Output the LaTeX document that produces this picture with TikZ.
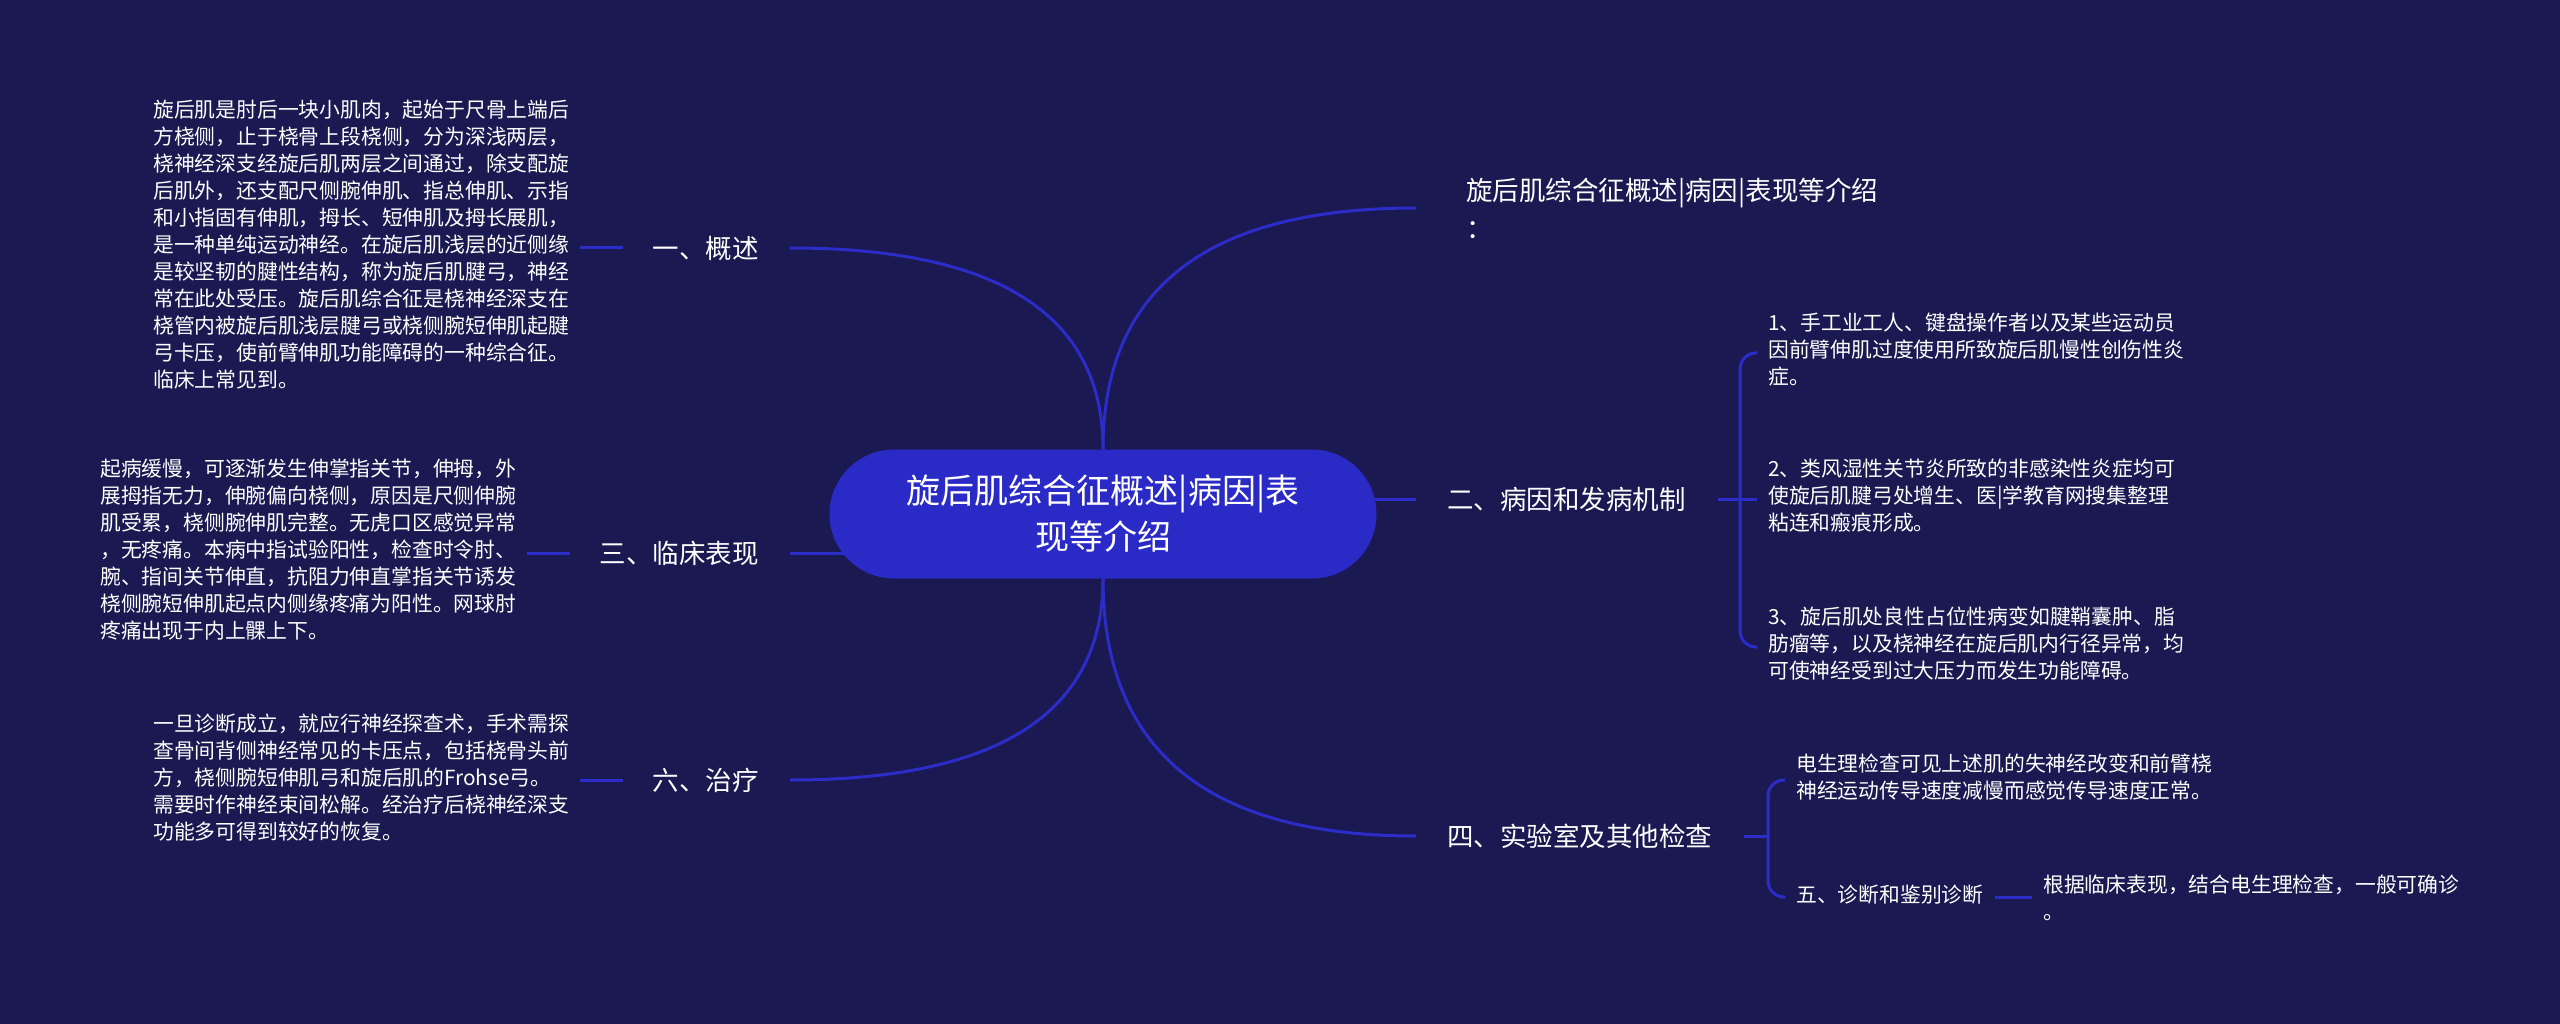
\documentclass[tikz,border=0pt]{standalone}
\usepackage{fontspec}
\setmainfont{Noto Sans CJK SC}
\usetikzlibrary{calc}
\definecolor{bgc}{RGB}{26,25,82}
\definecolor{hubc}{RGB}{42,42,198}
\definecolor{wire}{RGB}{44,44,200}
\pgfdeclarelayer{bg}
\pgfsetlayers{bg,main}
\begin{document}
\begin{tikzpicture}[x=1pt,y=-1pt,
  conn/.style={draw=wire, line width=3pt},
  lab/.style={text=white, inner sep=0pt, font=\fontsize{26.5}{36}\selectfont},
  para/.style={text=white, inner sep=0pt, align=left, font=\fontsize{20.8}{27}\selectfont,
    execute at begin node=\strut, execute at end node=\strut},
  hubnode/.style={fill=hubc, rounded corners=64.5pt, minimum width=547pt, minimum height=129pt,
    inner sep=0pt, text=white, align=center, font=\fontsize{34}{46}\selectfont}]
\begin{pgfonlayer}{bg}
\fill[bgc] (0,0) rectangle (2560,1024);
\end{pgfonlayer}
\useasboundingbox (0,0) rectangle (2560,1024);

% hub
\node[hubnode] (hub) at (1103,514) {旋后肌综合征概述|病因|表\\现等介绍};

% left labels
\node[lab, anchor=east] (l1) at (759,248) {一、概述};
\node[lab, anchor=east] (l3) at (759,553) {三、临床表现};
\node[lab, anchor=east] (l6) at (759,780) {六、治疗};

% left paragraphs
\node[para, anchor=west] (t1) at (153,248) {旋后肌是肘后一块小肌肉，起始于尺骨上端后\\方桡侧，止于桡骨上段桡侧，分为深浅两层，\\桡神经深支经旋后肌两层之间通过，除支配旋\\后肌外，还支配尺侧腕伸肌、指总伸肌、示指\\和小指固有伸肌，拇长、短伸肌及拇长展肌，\\是一种单纯运动神经。在旋后肌浅层的近侧缘\\是较坚韧的腱性结构，称为旋后肌腱弓，神经\\常在此处受压。旋后肌综合征是桡神经深支在\\桡管内被旋后肌浅层腱弓或桡侧腕短伸肌起腱\\弓卡压，使前臂伸肌功能障碍的一种综合征。\\临床上常见到。};
\node[para, anchor=west] (t3) at (100,553) {起病缓慢，可逐渐发生伸掌指关节，伸拇，外\\展拇指无力，伸腕偏向桡侧，原因是尺侧伸腕\\肌受累，桡侧腕伸肌完整。无虎口区感觉异常\\，无疼痛。本病中指试验阳性，检查时令肘、\\腕、指间关节伸直，抗阻力伸直掌指关节诱发\\桡侧腕短伸肌起点内侧缘疼痛为阳性。网球肘\\疼痛出现于内上髁上下。};
\node[para, anchor=west] (t6) at (153,781) {一旦诊断成立，就应行神经探查术，手术需探\\查骨间背侧神经常见的卡压点，包括桡骨头前\\方，桡侧腕短伸肌弓和旋后肌的Frohse弓。\\需要时作神经束间松解。经治疗后桡神经深支\\功能多可得到较好的恢复。};

% right labels
\node[lab, anchor=west, align=left, font=\fontsize{26.5}{38}\selectfont] (r0) at (1466,208) {旋后肌综合征概述|病因|表现等介绍\\：};
\node[lab, anchor=west] (r2) at (1447,499) {二、病因和发病机制};
\node[lab, anchor=west] (r4) at (1447,836) {四、实验室及其他检查};

% right children
\node[para, anchor=west] (c1) at (1768,353) {1、手工业工人、键盘操作者以及某些运动员\\因前臂伸肌过度使用所致旋后肌慢性创伤性炎\\症。};
\node[para, anchor=west] (c2) at (1768,499) {2、类风湿性关节炎所致的非感染性炎症均可\\使旋后肌腱弓处增生、医|学教育网搜集整理\\粘连和瘢痕形成。};
\node[para, anchor=west] (c3) at (1768,647) {3、旋后肌处良性占位性病变如腱鞘囊肿、脂\\肪瘤等，以及桡神经在旋后肌内行径异常，均\\可使神经受到过大压力而发生功能障碍。};
\node[para, anchor=west] (c4) at (1796,780) {电生理检查可见上述肌的失神经改变和前臂桡\\神经运动传导速度减慢而感觉传导速度正常。};
\node[para, anchor=west] (c5) at (1796,897) {五、诊断和鉴别诊断};
\node[para, anchor=west] (c6) at (2043,901) {根据临床表现，结合电生理检查，一般可确诊\\。};

% connector points
\coordinate (a1) at ($(l1.east)+(31,0)$);
\coordinate (a3) at ($(l3.east)+(31,0)$);
\coordinate (a6) at ($(l6.east)+(31,0)$);
\coordinate (e0) at ($(r0.west)+(-50,0)$);
\coordinate (e2) at ($(r2.west)+(-31,0)$);
\coordinate (e4) at ($(r4.west)+(-31,0)$);
\coordinate (s2) at ($(r2.east)+(32,0)$);
\coordinate (v2) at ($(c2.west |- s2)+(-28,0)$);
\coordinate (s4) at ($(r4.east)+(32,0)$);
\coordinate (v4) at ($(c4.west |- s4)+(-28,0)$);

\begin{pgfonlayer}{bg}
% hub to left branches
\draw[conn] (a1) .. controls ($(a1)!0.667!(hub.north |- a1)$) and ($(hub.north)!0.667!(hub.north |- a1)$) .. (hub.north);
\draw[conn] (a3) -- (hub.center |- a3);
\draw[conn] (a6) .. controls ($(a6)!0.667!(hub.south |- a6)$) and ($(hub.south)!0.667!(hub.south |- a6)$) .. (hub.south);
% paragraphs to left labels
\draw[conn] ($(t1.east |- l1.west)+(11,0)$) -- ($(l1.west)+(-30,0)$);
\draw[conn] ($(t3.east |- l3.west)+(11,0)$) -- ($(l3.west)+(-30,0)$);
\draw[conn] ($(t6.east |- l6.west)+(11,0)$) -- ($(l6.west)+(-30,0)$);
% hub to right branches
\draw[conn] (hub.north) .. controls ($(hub.north)!0.667!(hub.north |- e0)$) and ($(e0)!0.667!(hub.north |- e0)$) .. (e0);
\draw[conn] (hub.center |- e2) -- (e2);
\draw[conn] (hub.south) .. controls ($(hub.south)!0.667!(hub.south |- e4)$) and ($(e4)!0.667!(hub.south |- e4)$) .. (e4);
% bracket of 二
\draw[conn] (s2) -- ($(c2.west |- s2)+(-11,0)$);
\draw[conn, rounded corners=16pt] (v2) -- (v2 |- c1.west) -- ($(c1.west)+(-11,0)$);
\draw[conn, rounded corners=16pt] (v2) -- (v2 |- c3.west) -- ($(c3.west)+(-11,0)$);
% bracket of 四
\draw[conn] (s4) -- (v4);
\draw[conn, rounded corners=16pt] (v4) -- (v4 |- c4.west) -- ($(c4.west)+(-11,0)$);
\draw[conn, rounded corners=16pt] (v4) -- (v4 |- c5.west) -- ($(c5.west)+(-11,0)$);
% 五 to its child
\draw[conn] ($(c5.east)+(11,0)$) -- ($(c6.west |- c5.east)+(-11,0)$);
\end{pgfonlayer}
\end{tikzpicture}
\end{document}
